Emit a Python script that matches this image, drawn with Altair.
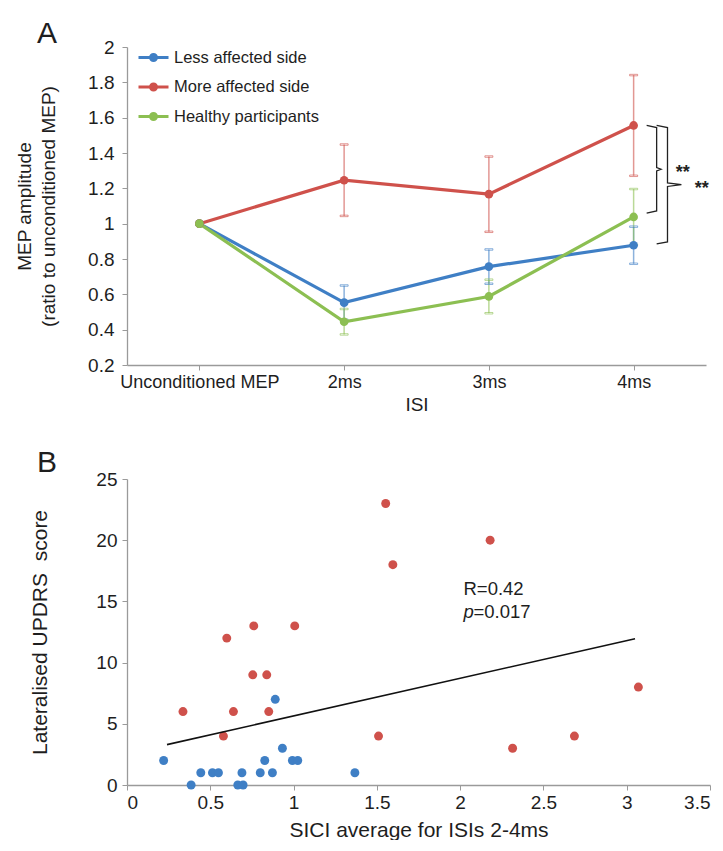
import json
import altair as alt
import pandas as pd

# ---------------- Panel A data ----------------
categories = ["Unconditioned MEP", "2ms", "3ms", "4ms"]
series = ["Less affected side", "More affected side", "Healthy participants"]
less_mean = [1.0, 0.553, 0.757, 0.878]
less_err = [0.0, 0.097, 0.097, 0.105]
more_mean = [1.0, 1.246, 1.167, 1.556]
more_err = [0.0, 0.202, 0.213, 0.285]
healthy_mean = [1.0, 0.445, 0.588, 1.038]
healthy_err = [0.0, 0.072, 0.095, 0.158]
colors = ["#3F7FC5", "#CF514B", "#8CBF52"]
y_ticks_a = [0.2, 0.4, 0.6, 0.8, 1, 1.2, 1.4, 1.6, 1.8, 2]

# significance brackets at 4ms (value ranges that were compared)
bracket_inner = [1.556, 1.06]
bracket_outer = [1.556, 0.885]
star_label = "**"

# ---------------- Panel B data ----------------
less_x = [0.22, 0.385, 0.443, 0.513, 0.549, 0.665, 0.697, 0.69, 0.80, 0.827,
          0.873, 0.89, 0.933, 0.993, 1.025, 1.368]
less_y = [2, 0, 1, 1, 1, 0, 0, 1, 1, 2, 1, 7, 3, 2, 2, 1]
more_x = [1.553, 2.18, 1.596, 0.599, 0.761, 1.007, 0.755, 0.839, 0.336, 0.639,
          0.851, 0.579, 1.51, 2.315, 2.686, 3.07]
more_y = [23, 20, 18, 12, 13, 13, 9, 9, 6, 6, 6, 4, 4, 3, 4, 8]
fit_x = [0.24, 3.05]
fit_y = [3.3, 11.95]
x_ticks_b = [0, 0.5, 1, 1.5, 2, 2.5, 3, 3.5]
y_ticks_b = [0, 5, 10, 15, 20, 25]
r_text = "R=0.42"
p_value = "=0.017"

FONT_N = "Liberation Sans Narrow, Liberation Sans, Arial"
FONT = "Liberation Sans, Arial"
AXIS_GREY = "#9a9a9a"
TEXT = "#1e1e1e"

# ---------------- Panel A ----------------
rows = []
for name, means, errs in [(series[0], less_mean, less_err),
                          (series[1], more_mean, more_err),
                          (series[2], healthy_mean, healthy_err)]:
    for i, (m, e) in enumerate(zip(means, errs)):
        rows.append({"series": name, "xi": i, "mean": m,
                     "lo": m - e, "hi": m + e, "err": e})
dfA = pd.DataFrame(rows)
dfErr = dfA[dfA["err"] > 0]

label_expr = json.dumps(categories) + "[datum.value]"
x_scale_a = alt.Scale(domain=[-0.5, 3.5], nice=False, zero=False)
y_scale_a = alt.Scale(domain=[0.2, 2], nice=False, zero=False)
x_axis_a = alt.Axis(values=[0, 1, 2, 3], labelExpr=label_expr, title="ISI",
                    labelFontSize=18, titleFontSize=19, labelPadding=3,
                    titlePadding=4, tickSize=5, labelFont=FONT_N, titleFont=FONT_N,
                    titleFontWeight="normal", labelOverlap=False)
y_axis_a = alt.Axis(values=y_ticks_a, format="~g",
                    title=["MEP amplitude", "(ratio to unconditioned MEP)"],
                    labelFontSize=19, titleFontSize=19, tickSize=5, labelPadding=8,
                    titlePadding=29, labelFont=FONT, titleFont=FONT,
                    titleFontWeight="normal", titleLineHeight=24, labelOverlap=False)


def XA(field):
    return alt.X(field, scale=x_scale_a, axis=x_axis_a)


def YA(field):
    return alt.Y(field, scale=y_scale_a, axis=y_axis_a)


legend_symbol = ("M-1,0L1,0M0.2,0A0.2,0.2,0,1,1,-0.2,0A0.2,0.2,0,1,1,0.2,0"
                 "M0.1,0A0.1,0.1,0,1,1,-0.1,0A0.1,0.1,0,1,1,0.1,0")

baseA = alt.Chart(dfA)
lines = baseA.mark_line(strokeWidth=3.2).encode(
    x=XA("xi:Q"), y=YA("mean:Q"),
    color=alt.Color("series:N", scale=alt.Scale(domain=series, range=colors),
                    sort=series,
                    legend=alt.Legend(title=None, orient="none", legendX=10, legendY=-6,
                                      symbolType=legend_symbol, symbolSize=900,
                                      symbolStrokeWidth=3, labelFontSize=16.5,
                                      labelFont=FONT_N, labelColor=TEXT,
                                      rowPadding=3.5, labelOffset=4, padding=0)),
)
points = baseA.mark_point(filled=True, size=75, opacity=1).encode(
    x=XA("xi:Q"), y=YA("mean:Q"),
    fill=alt.Fill("series:N", scale=alt.Scale(domain=series, range=colors), legend=None),
)
errA = alt.Chart(dfErr)
err_stroke = alt.Stroke("series:N", scale=alt.Scale(domain=series, range=colors), legend=None)
rules = errA.mark_rule(strokeWidth=1.5, opacity=0.6).encode(
    x=XA("xi:Q"), y=YA("lo:Q"), y2="hi:Q", stroke=err_stroke)
caps_lo = errA.mark_tick(orient="horizontal", size=8, thickness=1.5, opacity=0.6,
                         filled=False).encode(x=XA("xi:Q"), y=YA("lo:Q"), stroke=err_stroke)
caps_hi = errA.mark_tick(orient="horizontal", size=8, thickness=1.5, opacity=0.6,
                         filled=False).encode(x=XA("xi:Q"), y=YA("hi:Q"), stroke=err_stroke)


# brace shapes (right curly brackets)
def brace(top, bottom, x_end, x_v, x_tip, gid):
    mid = (top + bottom) / 2
    pts = [(x_end, top), (x_v, top - 0.012), (x_v, mid + 0.01), (x_tip, mid),
           (x_v, mid - 0.01), (x_v, bottom + 0.012), (x_end, bottom)]
    return [{"g": gid, "o": k, "bx": px, "by": py} for k, (px, py) in enumerate(pts)]


bdf = pd.DataFrame(brace(bracket_inner[0], bracket_inner[1], 3.09, 3.159, 3.19, "inner")
                   + brace(bracket_outer[0], bracket_outer[1], 3.159, 3.234, 3.33, "outer"))
braces = alt.Chart(bdf).mark_line(color="#222222", strokeWidth=1.3).encode(
    x=XA("bx:Q"), y=YA("by:Q"), detail="g:N", order="o:Q")
sdf = pd.DataFrame({"sx": [3.34, 3.47],
                    "sy": [(bracket_inner[0] + bracket_inner[1]) / 2,
                           (bracket_outer[0] + bracket_outer[1]) / 2],
                    "s": [star_label, star_label]})
stars = alt.Chart(sdf).mark_text(fontSize=18, fontWeight="bold", font=FONT,
                                 color="#222222", baseline="middle", dy=4).encode(
    x=XA("sx:Q"), y=YA("sy:Q"), text="s:N")

panelA = alt.layer(rules, caps_lo, caps_hi, lines, points, braces, stars).properties(
    width=579, height=318,
    title=alt.TitleParams("A", anchor="start", frame="group", fontSize=30,
                          fontWeight="normal", font=FONT, color=TEXT, dx=-90, offset=-11),
)

# ---------------- Panel B ----------------
dfB = pd.DataFrame({
    "x": less_x + more_x,
    "y": less_y + more_y,
    "side": [series[0]] * len(less_x) + [series[1]] * len(more_x),
})
x_scale_b = alt.Scale(domain=[0, 3.5], nice=False)
y_scale_b = alt.Scale(domain=[0, 25], nice=False)
x_axis_b = alt.Axis(values=x_ticks_b, format="~g",
                    title="SICI average for ISIs 2-4ms", labelFontSize=19,
                    titleFontSize=21, tickSize=5, labelPadding=3, titlePadding=7,
                    labelFont=FONT, titleFont=FONT, titleFontWeight="normal",
                    labelOverlap=False)
y_axis_b = alt.Axis(values=y_ticks_b, title="Lateralised UPDRS \u00a0score",
                    labelFontSize=19, titleFontSize=21, tickSize=5, labelPadding=5,
                    titlePadding=45, labelFont=FONT, titleFont=FONT,
                    titleFontWeight="normal", labelOverlap=False)


def XB(field):
    return alt.X(field, scale=x_scale_b, axis=x_axis_b)


def YB(field):
    return alt.Y(field, scale=y_scale_b, axis=y_axis_b)


scatter = alt.Chart(dfB).mark_circle(size=80, opacity=1).encode(
    x=XB("x:Q"), y=YB("y:Q"),
    color=alt.Color("side:N", scale=alt.Scale(domain=series[:2], range=["#4384C8", "#C9504B"]),
                    legend=None),
)
fit = alt.Chart(pd.DataFrame({"x": fit_x, "y": fit_y})).mark_line(
    color="#111111", strokeWidth=1.6).encode(x=XB("x:Q"), y=YB("y:Q"))
ann = pd.DataFrame({"x": [2.02], "y1": [16.0], "y2": [14.1], "r": [r_text],
                    "p": ["p"], "pv": [p_value]})
annA = alt.Chart(ann)
t_r = annA.mark_text(align="left", baseline="middle", fontSize=18.5, font=FONT,
                     color=TEXT).encode(x=XB("x:Q"), y=YB("y1:Q"), text="r:N")
t_p = annA.mark_text(align="left", baseline="middle", fontSize=18.5, font=FONT,
                     fontStyle="italic", color=TEXT).encode(x=XB("x:Q"), y=YB("y2:Q"), text="p:N")
t_pv = annA.mark_text(align="left", baseline="middle", fontSize=18.5, font=FONT,
                      color=TEXT, dx=10).encode(x=XB("x:Q"), y=YB("y2:Q"), text="pv:N")

panelB = alt.layer(scatter, fit, t_r, t_p, t_pv).properties(
    width=583, height=306,
    title=alt.TitleParams("B", anchor="start", frame="group", fontSize=30,
                          fontWeight="normal", font=FONT, color=TEXT, dx=-90, offset=-8),
)

chart = alt.vconcat(panelA, panelB, spacing=114, bounds="flush").configure_view(
    stroke=None
).configure_axis(
    grid=False, domainColor=AXIS_GREY, tickColor=AXIS_GREY, domainWidth=1.3,
    labelColor=TEXT, titleColor=TEXT,
).properties(padding={"left": 7, "top": 11, "right": 0, "bottom": 0}, background="white")

chart.save("out.html", embed_options={"renderer": "svg", "actions": False})
